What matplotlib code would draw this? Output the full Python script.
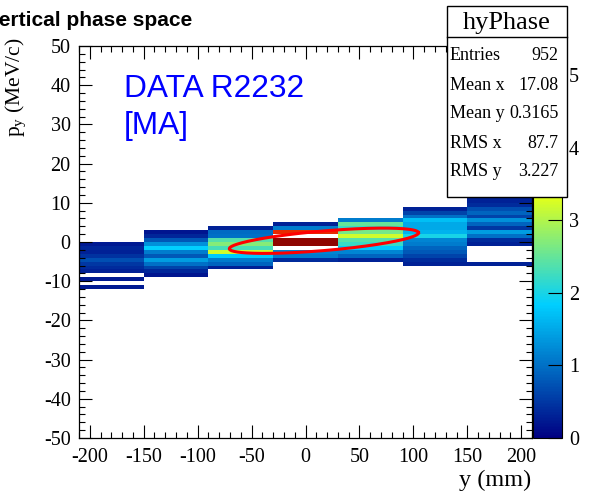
import numpy as np
import matplotlib
matplotlib.use("Agg")
import matplotlib.pyplot as plt
from matplotlib.colors import LinearSegmentedColormap
from matplotlib.patches import Rectangle
from matplotlib.lines import Line2D
from matplotlib.ticker import MultipleLocator

plt.rcParams["axes.unicode_minus"] = False
plt.rcParams["mathtext.fontset"] = "custom"
plt.rcParams["mathtext.rm"] = "Liberation Serif"
SERIF = "Liberation Serif"
SANS = "Liberation Sans"

# ---- histogram binning -------------------------------------------------
x_edges = [-210, -150, -90, -30, 30, 90, 150, 210]
y_min, y_max, y_bin = -50, 50, 1

# bin contents per y-column, listed downward from the top edge of the first bin
col_tops = [0, 3, 4, 5, 6, 9, 12]
col1 = [0.25, 0.35, 0.3, 0.45, 0.7, 0.5, 0.4, 0.3, 0, 0.25, 0, 0.25]
col2 = [0.2, 0.35, 0.8, 1.3, 1.85, 1.1, 0.8, 1.4, 1.0, 0.6, 0.35, 0.2]
col3 = [0.3, 0.95, 1.0, 2.4, 2.7, 2.3, 3.2, 1.8, 1.1, 0.9, 0.3]
col4 = [0.3, 1.1, 4.7, 0, 5.3, 5.3, 0, 1.2, 1.1, 0.4]
col5 = [1.1, 2.5, 2.2, 2.6, 3.2, 2.4, 2.2, 1.8, 1.2, 0.9, 0.3]
col6 = [0.3, 0.6, 1.0, 1.7, 1.5, 1.5, 1.6, 2.0, 1.2, 1.1, 0.9, 0.8, 0.6, 0.4, 0.3]
col7 = [0.3, 0.3, 0.4, 0.7, 0.9, 0.6, 1.3, 0.9, 0.5, 1.4, 1.0, 0.4, 0.3,
        0, 0, 0, 0, 0.3]
columns = [col1, col2, col3, col4, col5, col6, col7]
z_max = 5.4

# statistics box
hist_name = "hyPhase"
entries = 952
mean_x, mean_y = 17.08, 0.3165
rms_x, rms_y = 87.7, 3.227
corr_xy = 0.63

# ---- build the 2D histogram --------------------------------------------
y_edges = np.arange(y_min, y_max + y_bin, y_bin)
H = np.zeros((len(y_edges) - 1, len(x_edges) - 1))
for j, (top, vals) in enumerate(zip(col_tops, columns)):
    for k, v in enumerate(vals):
        lo = top - (k + 1) * y_bin
        i = int(round((lo - y_min) / y_bin))
        H[i, j] = v
Hm = np.ma.masked_less_equal(H, 0)

palette = LinearSegmentedColormap.from_list(
    "root_rainbow",
    [(0.00, (0.00, 0.00, 0.51)),
     (0.34, (0.00, 0.81, 1.00)),
     (0.61, (0.87, 1.00, 0.12)),
     (0.84, (1.00, 0.20, 0.00)),
     (1.00, (0.51, 0.00, 0.00))], N=256)

W, Hpx = 600, 491
fig = plt.figure(figsize=(6.0, 4.91), dpi=100)


def fx(px):
    return px / W


def fy(py):
    return 1 - py / Hpx


L, R, T, B = 79, 532, 46, 438
ax = fig.add_axes([fx(L), fy(B), fx(R - L), (B - T) / Hpx])
mesh = ax.pcolormesh(x_edges, y_edges, Hm, cmap=palette, vmin=0, vmax=z_max)
ax.set_xlim(x_edges[0], x_edges[-1])
ax.set_ylim(y_min, y_max)

# emittance-style ellipse from the means, RMS widths and correlation
t = np.linspace(0, 2 * np.pi, 400)
ex = mean_x + rms_x * np.cos(t)
ey = mean_y + rms_y * (corr_xy * np.cos(t) + np.sqrt(1 - corr_xy ** 2) * np.sin(t))
ax.plot(ex, ey, color="#ff0000", lw=2.2)

ax.xaxis.set_major_locator(MultipleLocator(50))
ax.xaxis.set_minor_locator(MultipleLocator(10))
ax.yaxis.set_major_locator(MultipleLocator(10))
ax.yaxis.set_minor_locator(MultipleLocator(2))
ax.tick_params(which="both", direction="in", top=True, right=True,
               width=0.8, colors="black")
ax.tick_params(which="major", length=9.5)
ax.tick_params(which="minor", length=4.5)
ax.tick_params(axis="x", labelsize=14.5, pad=7)
ax.tick_params(axis="y", labelsize=14.5, pad=6)
for lab in ax.get_xticklabels() + ax.get_yticklabels():
    lab.set_fontfamily(SERIF)
for sp in ax.spines.values():
    sp.set_linewidth(0.9)

# palette axis
cax = fig.add_axes([fx(533), fy(B), fx(29), (B - T) / Hpx])
cb = fig.colorbar(mesh, cax=cax)
cb.set_ticks([0, 1, 2, 3, 4, 5])
cb.outline.set_linewidth(0.8)
cax.tick_params(direction="in", length=10, width=0.8, labelsize=14.5, pad=5)
for lab in cax.get_yticklabels():
    lab.set_fontfamily(SERIF)
cax.minorticks_off()

# axis titles
fig.text(fx(16), fy(37), r"p$_{\mathrm{y}}$ (MeV/c)", rotation=90,
         ha="center", va="top", family=SERIF, fontsize=15.5)
fig.text(fx(531), fy(480), "y (mm)", ha="right", va="center",
         family=SERIF, fontsize=17.5)

# title
fig.text(fx(-14), fy(26), "Vertical phase space", ha="left", va="baseline",
         family=SANS, fontweight="bold", fontsize=15)

# run label
ax.text(fx(124 - L) / fx(R - L), (B - 97) / (B - T), "DATA R2232",
        transform=ax.transAxes, ha="left", va="baseline", color="#0000ff",
        family=SANS, fontsize=22.8)
ax.text(fx(124 - L) / fx(R - L), (B - 134) / (B - T), "[MA]",
        transform=ax.transAxes, ha="left", va="baseline", color="#0000ff",
        family=SANS, fontsize=22.8)

# statistics box
bx0, bx1, by0, by1, bsep = 447, 567, 5.5, 196.5, 37.3
fig.add_artist(Rectangle((fx(bx0), fy(by1)), fx(bx1 - bx0), (by1 - by0) / Hpx,
                         transform=fig.transFigure, facecolor="white",
                         edgecolor="black", lw=1.0, zorder=10))
fig.add_artist(Line2D([fx(bx0), fx(bx1)], [fy(bsep), fy(bsep)],
                      transform=fig.transFigure, color="black", lw=1.0,
                      zorder=11))
fig.text(fx((bx0 + bx1) / 2), fy(29.5), hist_name, ha="center",
         va="baseline", family=SERIF, fontsize=19, zorder=12)
stat_rows = [("Entries", f"{entries}"),
             ("Mean x", f"{mean_x:.2f}"),
             ("Mean y", f"{mean_y:.4f}"),
             ("RMS x", f"{rms_x:.1f}"),
             ("RMS y", f"{rms_y:.3f}")]
row_base = [60, 90, 118, 148, 176]
for (name, val), yb in zip(stat_rows, row_base):
    fig.text(fx(450), fy(yb), name, ha="left", va="baseline",
             family=SERIF, fontsize=13, zorder=12)
    fig.text(fx(558.5), fy(yb), val, ha="right", va="baseline",
             family=SERIF, fontsize=13, zorder=12)

fig.savefig("out.png", dpi=100)
